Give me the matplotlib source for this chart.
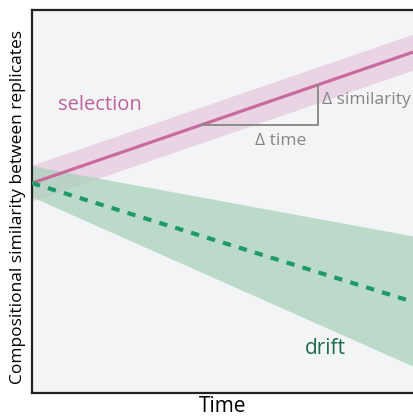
import numpy as np
import matplotlib.pyplot as plt

plt.rcParams['font.family'] = ['Open Sans', 'DejaVu Sans']

# conceptual trajectories: similarity between replicates over time
time = [0.0, 1.0]
selection_mean = [0.548, 0.890]
selection_low = [0.501, 0.843]
selection_high = [0.595, 0.937]
drift_mean = [0.548, 0.238]
drift_low = [0.512, 0.070]
drift_high = [0.593, 0.410]

# slope triangle on the selection line
tri_t = [0.44, 0.75]

fig = plt.figure(figsize=(4.13, 4.17), dpi=100)
ax = fig.add_axes([32 / 413, 24 / 417, 381 / 413, 383 / 417])
ax.set_facecolor('#f3f4f6')

ax.fill_between(time, selection_low, selection_high, color='#e9cfe0', alpha=0.85, lw=0, zorder=1)
ax.fill_between(time, drift_low, drift_high, color='#a9d2bc', alpha=0.75, lw=0, zorder=2)
ax.plot(time, selection_mean, color='#c96a9f', lw=2.3, solid_capstyle='butt', zorder=3)
ax.plot(time, drift_mean, color='#1e9a68', lw=3, dashes=(2, 2), zorder=3)

tri_y = np.interp(tri_t, time, selection_mean)
ax.plot([tri_t[0], tri_t[1], tri_t[1]], [tri_y[0], tri_y[0], tri_y[1]],
        color='#8c8c8c', lw=1.4, zorder=4)
ax.text(0.653, tri_y[0] - 0.04, '\u0394 time', color='#858585',
        fontsize=12.5, ha='center', va='center')
ax.text(tri_t[1] + 0.012, 0.765, '\u0394 similarity',
        color='#858585', fontsize=12.5, ha='left', va='center')

ax.text(0.178, 0.753, 'selection', color='#c0609a', fontsize=14.5, ha='center', va='center')
ax.text(0.77, 0.117, 'drift', color='#1f6d4d', fontsize=15, ha='center', va='center')

ax.set_xlim(0, 1)
ax.set_ylim(0, 1)
ax.set_xticks([])
ax.set_yticks([])
for side in ['left', 'bottom', 'top']:
    ax.spines[side].set_linewidth(1.6)
    ax.spines[side].set_color('#222222')
ax.spines['right'].set_visible(False)

ax.set_xlabel('Time', fontsize=15, labelpad=2)
ax.set_ylabel('Compositional similarity between replicates', fontsize=12.5)
ax.yaxis.set_label_coords(-0.016, 0.486)

fig.savefig('out.png', dpi=100)
